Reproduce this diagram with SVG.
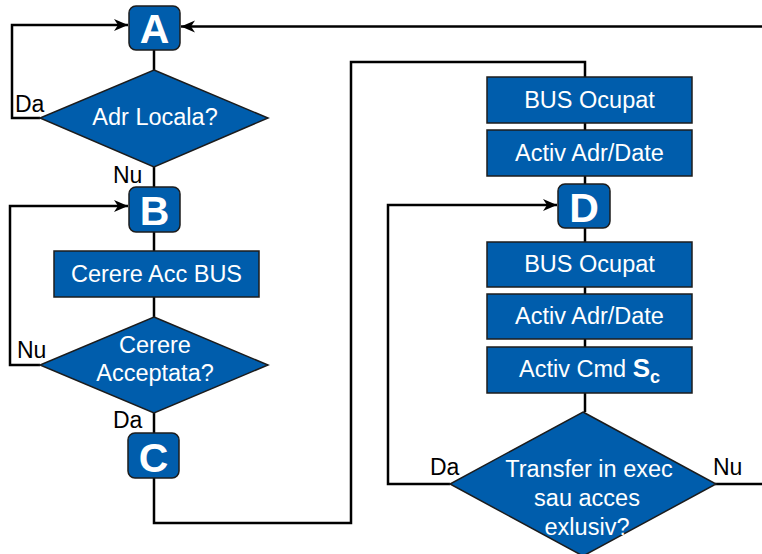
<svg xmlns="http://www.w3.org/2000/svg" width="762" height="554" viewBox="0 0 762 554">
<style>
.box{fill:#005DAC;stroke:#1c1c1c;stroke-width:1.5}
.t{font-family:"Liberation Sans",Arial,sans-serif;font-size:23.5px;fill:#fff;text-anchor:middle}
.big{font-family:"Liberation Sans",Arial,sans-serif;font-size:41px;font-weight:bold;fill:#fff;text-anchor:middle}
.lbl{font-family:"Liberation Sans",Arial,sans-serif;font-size:23px;fill:#000}
.c{fill:none;stroke:#000;stroke-width:2.5}
</style>
<defs>
<marker id="arr" markerUnits="userSpaceOnUse" markerWidth="16" markerHeight="14" refX="14" refY="7" orient="auto">
<path d="M0,1 L14,7 L0,13 L4,7 z" fill="#000"/>
</marker>
</defs>
<rect width="762" height="554" fill="#fff"/>
<g id="connectors">
<path class="c" d="M154,50 V70"/>
<path class="c" d="M40,118 H12 V25 H128" marker-end="url(#arr)"/>
<path class="c" d="M762,26.5 H181" marker-end="url(#arr)"/>
<path class="c" d="M154,167 V187"/>
<path class="c" d="M154,232 V251"/>
<path class="c" d="M154,297 V317"/>
<path class="c" d="M40,365 H10 V206 H128" marker-end="url(#arr)"/>
<path class="c" d="M154,413 V433"/>
<path class="c" d="M154,478 V523 H351 V62 H585 V77"/>
<path class="c" d="M585,123 V130"/>
<path class="c" d="M585,176 V184"/>
<path class="c" d="M585,228 V242"/>
<path class="c" d="M585,287 V294"/>
<path class="c" d="M585,339 V347"/>
<path class="c" d="M585,393 V412"/>
<path class="c" d="M450,484 H388 V205 H557" marker-end="url(#arr)"/>
<path class="c" d="M715,484 H762"/>
</g>
<g id="labels">
<text class="lbl" x="15" y="112">Da</text>
<text class="lbl" x="113" y="183">Nu</text>
<text class="lbl" x="17" y="358">Nu</text>
<text class="lbl" x="113" y="428">Da</text>
<text class="lbl" x="430" y="475">Da</text>
<text class="lbl" x="713" y="475">Nu</text>
</g>
<g id="nodeA">
<rect class="box" x="129" y="6" width="51" height="44" rx="7"/>
<text class="big" x="154.5" y="43">A</text>
</g>
<g id="decLocal">
<polygon class="box" points="154,70 268,118 154,167 40,118" stroke="none"/>
<text class="t" x="155" y="125">Adr Locala?</text>
</g>
<g id="nodeB">
<rect class="box" x="129" y="187" width="51" height="45" rx="7"/>
<text class="big" x="154.5" y="225">B</text>
</g>
<g id="cerereAcc">
<rect class="box" x="54" y="251" width="205" height="46"/>
<text class="t" x="156.5" y="282">Cerere Acc BUS</text>
</g>
<g id="decAccept">
<polygon class="box" points="154,317 268,365 154,413 40,365" stroke="none"/>
<text class="t" x="155" y="353">Cerere</text>
<text class="t" x="155" y="381">Acceptata?</text>
</g>
<g id="nodeC">
<rect class="box" x="128" y="433" width="51" height="45" rx="7"/>
<text class="big" x="153.5" y="472">C</text>
</g>
<g id="busOcupat1">
<rect class="box" x="487" y="77" width="205" height="46"/>
<text class="t" x="589.5" y="108">BUS Ocupat</text>
</g>
<g id="activAdr1">
<rect class="box" x="487" y="130" width="205" height="46"/>
<text class="t" x="589.5" y="161">Activ Adr/Date</text>
</g>
<g id="nodeD">
<rect class="box" x="558" y="184" width="52" height="44" rx="7"/>
<text class="big" x="584" y="222">D</text>
</g>
<g id="busOcupat2">
<rect class="box" x="487" y="242" width="205" height="45"/>
<text class="t" x="589.5" y="272">BUS Ocupat</text>
</g>
<g id="activAdr2">
<rect class="box" x="487" y="294" width="205" height="45"/>
<text class="t" x="589.5" y="324">Activ Adr/Date</text>
</g>
<g id="activCmd">
<rect class="box" x="487" y="347" width="205" height="46"/>
<text class="t" x="589.5" y="377">Activ Cmd <tspan font-weight="bold" font-size="26px">S</tspan><tspan font-weight="bold" font-size="18px" dy="6">c</tspan></text>
</g>
<g id="decTransfer">
<polygon class="box" points="583,412 716,484 583,556 450,484" stroke="none"/>
<text class="t" x="589" y="477">Transfer in exec</text>
<text class="t" x="587" y="506">sau acces</text>
<text class="t" x="587" y="535">exlusiv?</text>
</g>
</svg>
